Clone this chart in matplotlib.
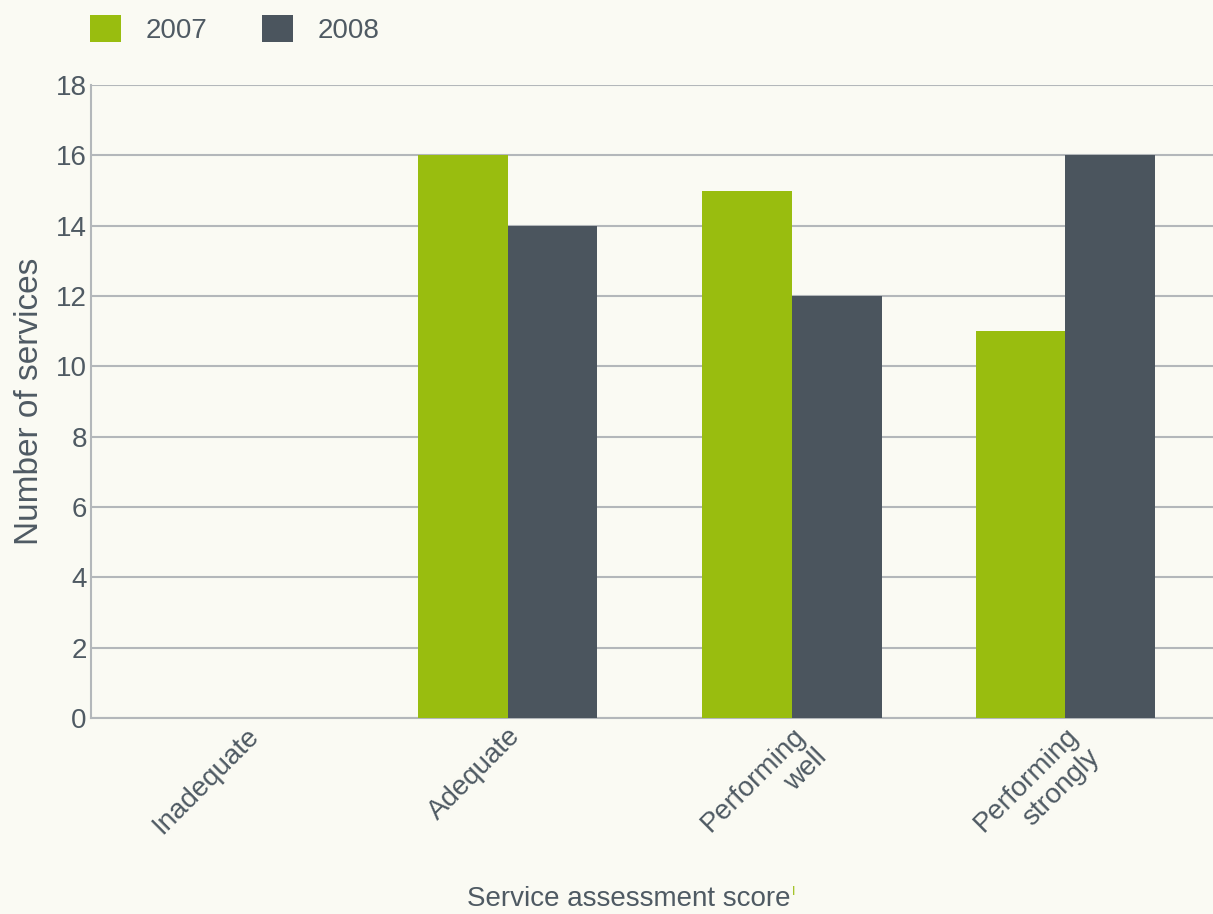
import numpy as np
import matplotlib.pyplot as plt

categories = ["Inadequate", "Adequate", "Performing\nwell", "Performing\nstrongly"]
values_2007 = [0, 16, 15, 11]
values_2008 = [0, 14, 12, 16]
series_names = ["2007", "2008"]
yticks = [0, 2, 4, 6, 8, 10, 12, 14, 16, 18]

green = "#99bd0f"
dark = "#4b555e"
txt = "#4f5a63"
bg = "#fafaf3"
grid = "#b3b7ba"

plt.rcParams["font.family"] = ["Liberation Sans", "DejaVu Sans"]

fig = plt.figure(figsize=(12.13, 9.14), dpi=100, facecolor=bg)
ax = fig.add_axes([91 / 1213, 1 - 718 / 914, 1 - 91 / 1213, (718 - 85) / 914])
ax.set_facecolor(bg)

x = np.array([0.08, 1, 2.0, 2.96])
w = 0.315
ax.bar(x - w / 2, values_2007, w, color=green, label=series_names[0], zorder=3)
ax.bar(x + w / 2, values_2008, w, color=dark, label=series_names[1], zorder=3)

ax.set_xlim(-0.465, 3.48)
ax.set_ylim(0, 18)
ax.set_yticks(yticks)
ax.yaxis.grid(True, color=grid, linewidth=1.5, zorder=0)
ax.tick_params(axis="y", length=0, labelsize=20, colors=txt, pad=3)
ax.tick_params(axis="x", length=0, labelsize=20, colors=txt)
for s in ["top", "right"]:
    ax.spines[s].set_visible(False)
for s in ["left", "bottom"]:
    ax.spines[s].set_color(grid)
    ax.spines[s].set_linewidth(1.5)

ax.set_xticks(x)
ax.set_xticklabels(categories, rotation=45, ha="right", rotation_mode="anchor",
                   multialignment="right")

ax.set_ylabel("Number of services", fontsize=24, color=txt, labelpad=8)
fig.text(0.518, 0.002, "Service assessment score", fontsize=20, color=txt, ha="center", va="bottom")
fig.text(0.653, 0.018, "I", fontsize=9, color=green, ha="left", va="bottom")

leg = fig.legend(loc="upper left", bbox_to_anchor=(0.062, 1.0), ncol=2, frameon=False,
                 fontsize=20, handlelength=1.1, handleheight=1.1, handletextpad=0.9,
                 columnspacing=1.95, borderaxespad=0.15, labelcolor=txt)

fig.savefig("out.png", dpi=100, facecolor=bg)
